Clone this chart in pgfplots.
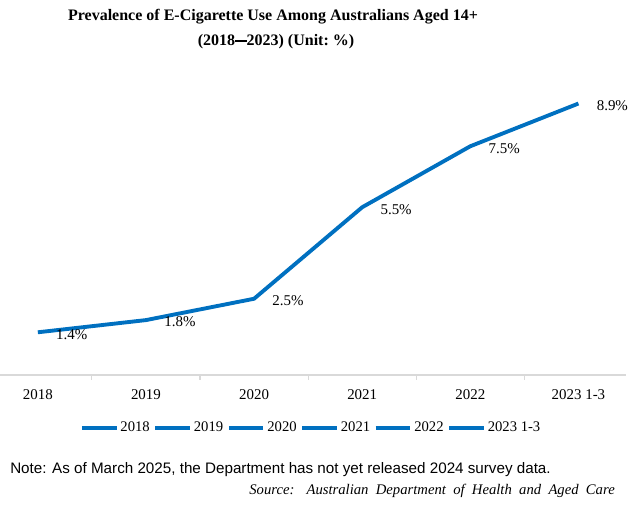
\documentclass[border=0pt]{standalone}
\usepackage{fontspec}
\setmainfont{Liberation Serif}
\newfontfamily\notefont{Liberation Sans}
\usepackage{pgfplots}
\pgfplotsset{compat=1.18}
\definecolor{lineblue}{HTML}{0070C0}
\definecolor{axisgray}{HTML}{D9D9D9}

\begin{document}
\begin{tikzpicture}[x=0.75pt,y=0.75pt]
\useasboundingbox (0,-141) rectangle (642,375);
\begin{axis}[
  at={(0,0)}, anchor=south west,
  scale only axis,
  width=469.5pt, height=228.75pt,
  xmin=-0.35, xmax=5.44,
  ymin=0, ymax=10,
  hide y axis,
  axis x line*=bottom,
  x axis line style={draw=axisgray, line width=0.8pt, -},
  xtick={0,1,2,3,4,5},
  xticklabels={2018,2019,2020,2021,2022,2023 1-3},
  major tick length=0pt,
  minor xtick={0.5,1.5,2.5,3.5,4.5},
  minor tick length=3.75pt,
  tick align=outside,
  minor tick style={draw=axisgray, line width=0.8pt},
  xticklabel style={font=\fontsize{11.2}{13}\selectfont, yshift=-7.5pt},
  clip=false,
  legend columns=6,
  legend style={draw=none, fill=none, at={(rel axis cs:0.497,0)}, anchor=center,
    yshift=-39.75pt, font=\fontsize{11}{13}\selectfont,
    /tikz/every even column/.append style={column sep=1.2pt},
    nodes={inner sep=1.5pt}},
  legend image code/.code={\draw[#1] (0pt,0pt) -- (26pt,0pt);},
]
\addplot[lineblue, line width=2.9pt,
  nodes near coords={\pgfplotspointmeta\%},
  point meta=explicit symbolic,
  nodes near coords style={anchor=west, xshift=9pt, yshift=-1.5pt,
    text=black, font=\fontsize{11.2}{13}\selectfont}]
  coordinates {
    (0,1.4) [1.4] (1,1.8) [1.8] (2,2.5) [2.5]
    (3,5.5) [5.5] (4,7.5) [7.5] (5,8.9) [8.9]
  };
\addlegendimage{lineblue, line width=2.9pt}
\addlegendimage{lineblue, line width=2.9pt}
\addlegendimage{lineblue, line width=2.9pt}
\addlegendimage{lineblue, line width=2.9pt}
\addlegendimage{lineblue, line width=2.9pt}
\legend{2018,2019,2020,2021,2022,2023 1-3}
\end{axis}
\node[font=\bfseries\fontsize{12}{14}\selectfont] at (273,358) {Prevalence of E-Cigarette Use Among Australians Aged 14+};
\node[font=\bfseries\fontsize{12}{14}\selectfont] at (276,333) {(2018\rule[0.24em]{0.72em}{0.11em}2023) (Unit:~\%)};
\node[anchor=west, font=\notefont\fontsize{11.4}{13}\selectfont, inner sep=0pt] at (10,-95)
  {Note: As of March 2025, the Department has not yet released 2024 survey data.};
\node[anchor=east, font=\itshape\fontsize{11}{13}\selectfont, inner sep=0pt] at (615,-116)
  {\makebox[274pt][s]{Source: Australian Department of Health and Aged Care}};
\end{tikzpicture}
\end{document}
